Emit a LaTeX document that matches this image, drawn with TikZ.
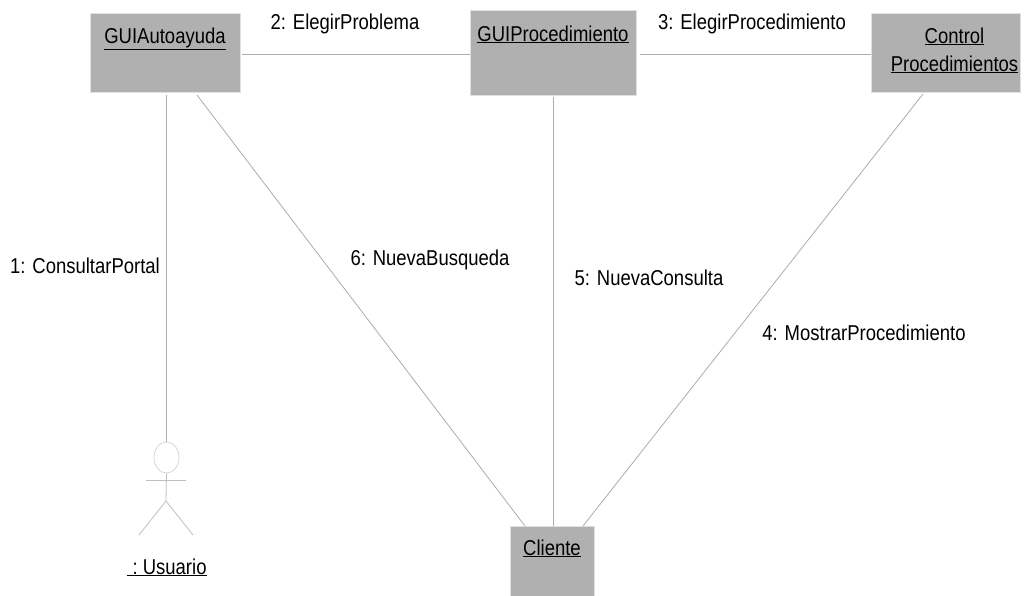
\documentclass[tikz,border=0pt]{standalone}
\usepackage{fontspec}
\usetikzlibrary{shapes.geometric}
\setmainfont[FakeStretch=0.86]{Liberation Sans}
\begin{document}
\begin{tikzpicture}[x=1pt,y=-1pt,
  objbox/.style={draw=black!12,line width=0.6pt,fill=black!31,inner sep=0pt,anchor=north west},
  link/.style={draw=black!32,line width=0.8pt},
  actorline/.style={draw=black!25,line width=0.8pt},
  txt/.style={inner sep=0pt,anchor=base,font=\fontsize{21.5}{25}\selectfont,text=black,align=center}]
\useasboundingbox (0,0) rectangle (1027,595);
\fill[white] (0,0) rectangle (1027,595);
\node[objbox,minimum width=150pt,minimum height=79pt] (auto) at (90,13) {};
\node[objbox,minimum width=166pt,minimum height=85pt] (proc) at (470,10) {};
\node[objbox,minimum width=149pt,minimum height=79pt] (ctrl) at (871,13) {};
\node[objbox,minimum width=84pt,minimum height=70pt] (cli) at (510,526) {};
\node[txt] (tauto) at (165,43) {\underline{GUIAutoayuda}};
\node[txt] (tproc) at (553,41) {\underline{GUIProcedimiento}};
\node[txt] (tctrl1) at (954.5,43) {\underline{Control}};
\node[txt] (tctrl2) at (954.5,71) {\underline{Procedimientos}};
\node[txt] (tcli) at (552,555) {\underline{Cliente}};
\node[txt] (tusu) at (167,574) {\underline{\ :\ Usuario}};
\node[txt] (l1) at (85,273) {1: ConsultarPortal};
\node[txt] (l2) at (345,29) {2: ElegirProblema};
\node[txt] (l3) at (752,29) {3: ElegirProcedimiento};
\node[txt] (l4) at (864,340) {4: MostrarProcedimiento};
\node[txt] (l5) at (649,285) {5: NuevaConsulta};
\node[txt] (l6) at (430,265) {6: NuevaBusqueda};
% actor
\node[draw=black!20,line width=0.6pt,ellipse,minimum width=25pt,minimum height=31pt,inner sep=0pt] (head) at (166.5,457.5) {};
\coordinate (neck) at (head.south);
\coordinate (hip) at (166,501);
\coordinate (armL) at (146,480.5);
\coordinate (armR) at (186,480.5);
\coordinate (legL) at (139,535);
\coordinate (legR) at (193,535);
\draw[actorline] (neck) -- (hip) (armL) -- (armR) (hip) -- (legL) (hip) -- (legR);
% connectors
\coordinate (a0) at (242,54);
\coordinate (p0) at (470,54);
\coordinate (p3) at (640,54);
\coordinate (c0) at (871,54);
\coordinate (a1) at (166.5,95);
\coordinate (a2) at (197,95);
\coordinate (p1) at (553.5,97);
\coordinate (c1) at (923,94);
\coordinate (k1) at (525,526);
\coordinate (k2) at (553.5,526);
\coordinate (k3) at (583,526);
\draw[link] (a0) -- (p0);
\draw[link] (p3) -- (c0);
\draw[link] (a1) -- (head.north);
\draw[link] (a2) -- (k1);
\draw[link] (p1) -- (k2);
\draw[link] (c1) -- (k3);
\end{tikzpicture}
\end{document}
